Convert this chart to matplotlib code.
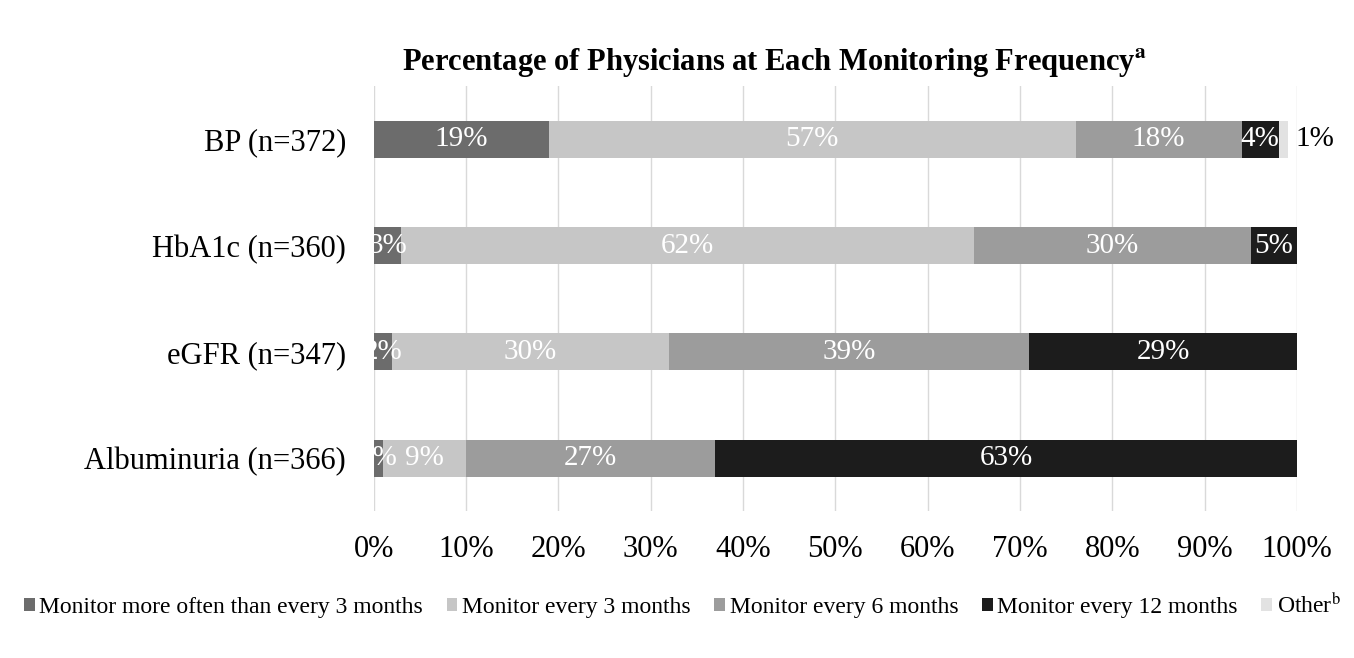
import matplotlib
matplotlib.use("Agg")
import matplotlib.pyplot as plt
import numpy as np

categories = ["BP (n=372)", "HbA1c (n=360)", "eGFR (n=347)", "Albuminuria (n=366)"]
series_names = ["Monitor more often than every 3 months", "Monitor every 3 months",
                "Monitor every 6 months", "Monitor every 12 months", "Other$^{\\mathrm{b}}$"]
more_often = [19, 3, 2, 1]
every3 = [57, 62, 30, 9]
every6 = [18, 30, 39, 27]
every12 = [4, 5, 29, 63]
other = [1, 0, 0, 0]
xticks = [0, 10, 20, 30, 40, 50, 60, 70, 80, 90, 100]

plt.rcParams['font.family'] = ['Liberation Serif', 'DejaVu Serif']
plt.rcParams['mathtext.fontset'] = 'stix'

colors = ["#6c6c6c", "#c6c6c6", "#9c9c9c", "#1c1c1c", "#e2e2e2"]

fig = plt.figure(figsize=(13.54, 6.58), dpi=100)
ax = fig.add_axes([0.276, 0.223, 0.682, 0.646])

y = np.arange(len(categories))
data = [more_often, every3, every6, every12, other]
left = np.zeros(len(categories))
for i, (vals, name) in enumerate(zip(data, series_names)):
    vals = np.array(vals, dtype=float)
    ax.barh(y, vals, left=left, height=0.35, color=colors[i], label=name, zorder=3)
    for j, v in enumerate(vals):
        if v <= 0:
            continue
        if i == 4:
            ax.text(left[j] + v + 0.8, y[j], f"{int(v)}%", ha="left", va="center",
                    fontsize=21, color="black", zorder=4)
        else:
            ax.text(left[j] + v / 2, y[j], f"{int(v)}%", ha="center", va="center",
                    fontsize=21, color="white", zorder=4)
    left += vals

ax.set_xlim(0, 100)
ax.set_ylim(3.5, -0.5)
ax.set_yticks(y)
ax.set_yticklabels(categories, fontsize=22)
ax.set_xticks(xticks)
ax.set_xticklabels([f"{t}%" for t in xticks], fontsize=22)
ax.tick_params(axis="both", length=0)
ax.tick_params(axis="x", pad=17)
ax.tick_params(axis="y", pad=20)
for s in ax.spines.values():
    s.set_visible(False)
ax.xaxis.grid(True, color="#d9d9d9", linewidth=1, zorder=0)
ax.set_axisbelow(True)

fig.text(0.572, 0.905, "Percentage of Physicians at Each Monitoring Frequency$^{\\mathbf{a}}$",
         ha="center", va="center", fontsize=22, fontweight="bold")

fig.legend(loc="center", bbox_to_anchor=(0.504, 0.08), ncol=5, frameon=False,
           fontsize=17, handlelength=0.45, handleheight=0.45, handletextpad=0.2,
           columnspacing=1.0)

fig.savefig("out.png", dpi=100)
